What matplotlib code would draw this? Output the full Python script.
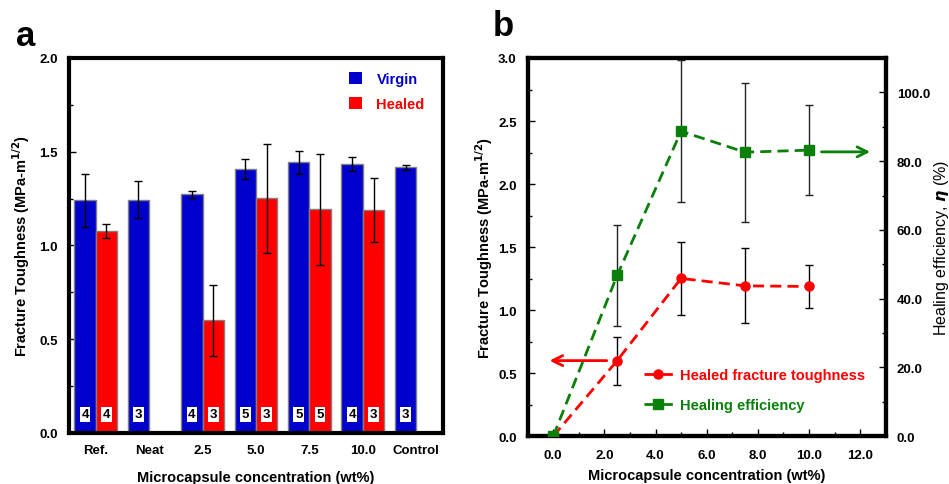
import numpy as np
import matplotlib
matplotlib.use("Agg")
import matplotlib.pyplot as plt
from matplotlib.patches import Patch
from matplotlib.lines import Line2D
from matplotlib.ticker import MultipleLocator, FormatStrFormatter

plt.rcParams['font.family'] = ['Liberation Sans', 'DejaVu Sans']
plt.rcParams['font.weight'] = 'bold'

# ---------------- data: panel a ----------------
categories = ["Ref.", "Neat", "2.5", "5.0", "7.5", "10.0", "Control"]
virgin = [1.240, 1.245, 1.273, 1.410, 1.443, 1.435, 1.418]
virgin_err = [0.140, 0.097, 0.020, 0.053, 0.061, 0.037, 0.013]
healed = [1.076, np.nan, 0.600, 1.252, 1.193, 1.188, np.nan]
healed_err = [0.037, np.nan, 0.190, 0.290, 0.297, 0.170, np.nan]
virgin_n = [4, 3, 4, 5, 5, 4, 3]
healed_n = [4, None, 3, 3, 5, 3, None]

# ---------------- data: panel b ----------------
conc = [0.0, 2.5, 5.0, 7.5, 10.0]
healed_kic = [0.0, 0.600, 1.252, 1.193, 1.188]
healed_kic_err = [0.0, 0.190, 0.290, 0.297, 0.170]
efficiency = [0.0, 46.8, 88.7, 82.6, 83.2]
efficiency_err = [0.0, 14.6, 20.7, 20.2, 13.0]

BLUE = '#0000CC'
RED = '#FF0000'
GREEN = '#0A800A'
EDGE = '#808080'
TICK_FS = 9.5
LAB_FS = 10.5

fig = plt.figure(figsize=(9.49, 4.85), dpi=100)

# ================= panel a =================
axa = fig.add_axes([0.0727, 0.1052, 0.4668 - 0.0727, 0.8784 - 0.1052])
x = np.arange(len(categories))
w = 0.4
axa.bar(x - w / 2, virgin, w, color=BLUE, edgecolor=EDGE, linewidth=1.0, zorder=2)
axa.bar(x + w / 2, healed, w, color=RED, edgecolor=EDGE, linewidth=1.0, zorder=2)
axa.errorbar(x - w / 2, virgin, yerr=virgin_err, fmt='none', ecolor='black',
             elinewidth=1.0, capsize=3, capthick=1.0, zorder=3)
axa.errorbar(x + w / 2, healed, yerr=healed_err, fmt='none', ecolor='black',
             elinewidth=1.0, capsize=3, capthick=1.0, zorder=3)

for i, n in enumerate(virgin_n):
    if n is not None:
        axa.text(x[i] - w / 2, 0.1, str(n), ha='center', va='center', fontsize=9.5,
                 fontweight='bold', color='black', zorder=4,
                 bbox=dict(boxstyle='square,pad=0.12', fc='white', ec='none'))
for i, n in enumerate(healed_n):
    if n is not None:
        axa.text(x[i] + w / 2, 0.1, str(n), ha='center', va='center', fontsize=9.5,
                 fontweight='bold', color='black', zorder=4,
                 bbox=dict(boxstyle='square,pad=0.12', fc='white', ec='none'))

axa.set_xlim(-0.5, 6.5)
axa.set_ylim(0, 2.0)
axa.set_xticks(x)
axa.set_xticklabels(categories, fontsize=TICK_FS, fontweight='bold')
axa.tick_params(axis='x', length=0, pad=8)
axa.yaxis.set_major_locator(MultipleLocator(0.5))
axa.yaxis.set_minor_locator(MultipleLocator(0.25))
axa.yaxis.set_major_formatter(FormatStrFormatter('%.1f'))
axa.tick_params(axis='y', which='major', direction='in', length=5, width=1, pad=8,
                labelsize=TICK_FS)
axa.tick_params(axis='y', which='minor', direction='in', length=3, width=1)
for lab in axa.get_yticklabels():
    lab.set_fontweight('bold')
for s in axa.spines.values():
    s.set_linewidth(3)
axa.set_ylabel('Fracture Toughness (MPa-m$^{\\mathbf{1/2}}$)', fontsize=LAB_FS,
               fontweight='bold', labelpad=5)
axa.set_xlabel('Microcapsule concentration (wt%)', fontsize=LAB_FS,
               fontweight='bold', labelpad=10)

handles_a = [Patch(facecolor=BLUE, edgecolor='none'), Patch(facecolor=RED, edgecolor='none')]
lega = axa.legend(handles_a, ['Virgin', 'Healed'], loc='upper left',
                  bbox_to_anchor=(0.713, 0.998), frameon=False,
                  handlelength=0.9, handleheight=0.9, handletextpad=1.0,
                  labelspacing=0.75, prop={'weight': 'bold', 'size': LAB_FS})
for t, c in zip(lega.get_texts(), [BLUE, RED]):
    t.set_color(c)

fig.text(0.027, 0.905, 'a', fontsize=25, fontweight='bold', ha='center', va='baseline')

# ================= panel b =================
axb = fig.add_axes([0.556, 0.0984, 0.9333 - 0.556, 0.8784 - 0.0984])
axr = axb.twinx()

axb.set_xlim(-1, 13)
axb.set_ylim(0, 3.0)
axr.set_ylim(0, 110)

axb.errorbar(conc, healed_kic, yerr=healed_kic_err, fmt='none', ecolor='black',
             elinewidth=1.0, capsize=3, capthick=1.0, zorder=2)
axb.plot(conc, healed_kic, color=RED, lw=2, dashes=(4, 2.2), marker='o',
         markersize=6.5, markerfacecolor=RED, markeredgecolor=RED, zorder=3)

axr.errorbar(conc, efficiency, yerr=efficiency_err, fmt='none', ecolor='#222222',
             elinewidth=1.0, capsize=3, capthick=1.0, zorder=2)
axr.plot(conc, efficiency, color=GREEN, lw=2, dashes=(4, 2.2), marker='s',
         markersize=7, markerfacecolor=GREEN, markeredgecolor=GREEN, zorder=3)

axb.annotate('', xy=(-0.25, 0.6), xytext=(2.2, 0.6),
             arrowprops=dict(arrowstyle='->', color=RED, lw=2, mutation_scale=18))
axr.annotate('', xy=(12.5, 82.7), xytext=(10.38, 82.7),
             arrowprops=dict(arrowstyle='->', color=GREEN, lw=2, mutation_scale=18))

axb.set_xticks([0, 2, 4, 6, 8, 10, 12])
axb.xaxis.set_minor_locator(MultipleLocator(1))
axb.xaxis.set_major_formatter(FormatStrFormatter('%.1f'))
axb.yaxis.set_major_locator(MultipleLocator(0.5))
axb.yaxis.set_minor_locator(MultipleLocator(0.25))
axb.yaxis.set_major_formatter(FormatStrFormatter('%.1f'))
axr.set_yticks([0, 20, 40, 60, 80, 100])
axr.yaxis.set_minor_locator(MultipleLocator(10))
axr.yaxis.set_major_formatter(FormatStrFormatter('%.1f'))

axb.tick_params(which='major', direction='in', length=5, width=1, labelsize=TICK_FS)
axb.tick_params(which='minor', direction='in', length=3, width=1)
axb.tick_params(axis='x', which='major', pad=9)
axb.tick_params(axis='y', which='major', pad=8)
axr.tick_params(which='major', direction='in', length=5, width=1, labelsize=TICK_FS, pad=8)
axr.tick_params(which='minor', direction='in', length=3, width=1)
for lab in axb.get_xticklabels() + axb.get_yticklabels() + axr.get_yticklabels():
    lab.set_fontweight('bold')
for ax in (axb, axr):
    for s in ax.spines.values():
        s.set_linewidth(3)

axb.set_ylabel('Fracture Toughness (MPa-m$^{\\mathbf{1/2}}$)', fontsize=LAB_FS,
               fontweight='bold', labelpad=2)
axb.set_xlabel('Microcapsule concentration (wt%)', fontsize=LAB_FS,
               fontweight='bold', labelpad=5)
axr.set_ylabel('Healing efficiency, $\\mathit{\\eta}$ (%)', fontsize=11.5,
               fontweight='normal')
axr.yaxis.set_label_coords(1.128, 0.5)

handles_b = [Line2D([], [], color=RED, lw=2, dashes=(4, 2.2), marker='o', markersize=6.5),
             Line2D([], [], color=GREEN, lw=2, dashes=(4, 2.2), marker='s', markersize=7)]
legb = axb.legend(handles_b, ['Healed fracture toughness', 'Healing efficiency'],
                  loc='upper left', bbox_to_anchor=(0.288, 0.215), frameon=False,
                  handlelength=2.0, handletextpad=0.5, labelspacing=1.1,
                  prop={'weight': 'bold', 'size': LAB_FS})
for t, c in zip(legb.get_texts(), [RED, GREEN]):
    t.set_color(c)

fig.text(0.530, 0.925, 'b', fontsize=25, fontweight='bold', ha='center', va='baseline')

fig.savefig('out.png', dpi=100)
